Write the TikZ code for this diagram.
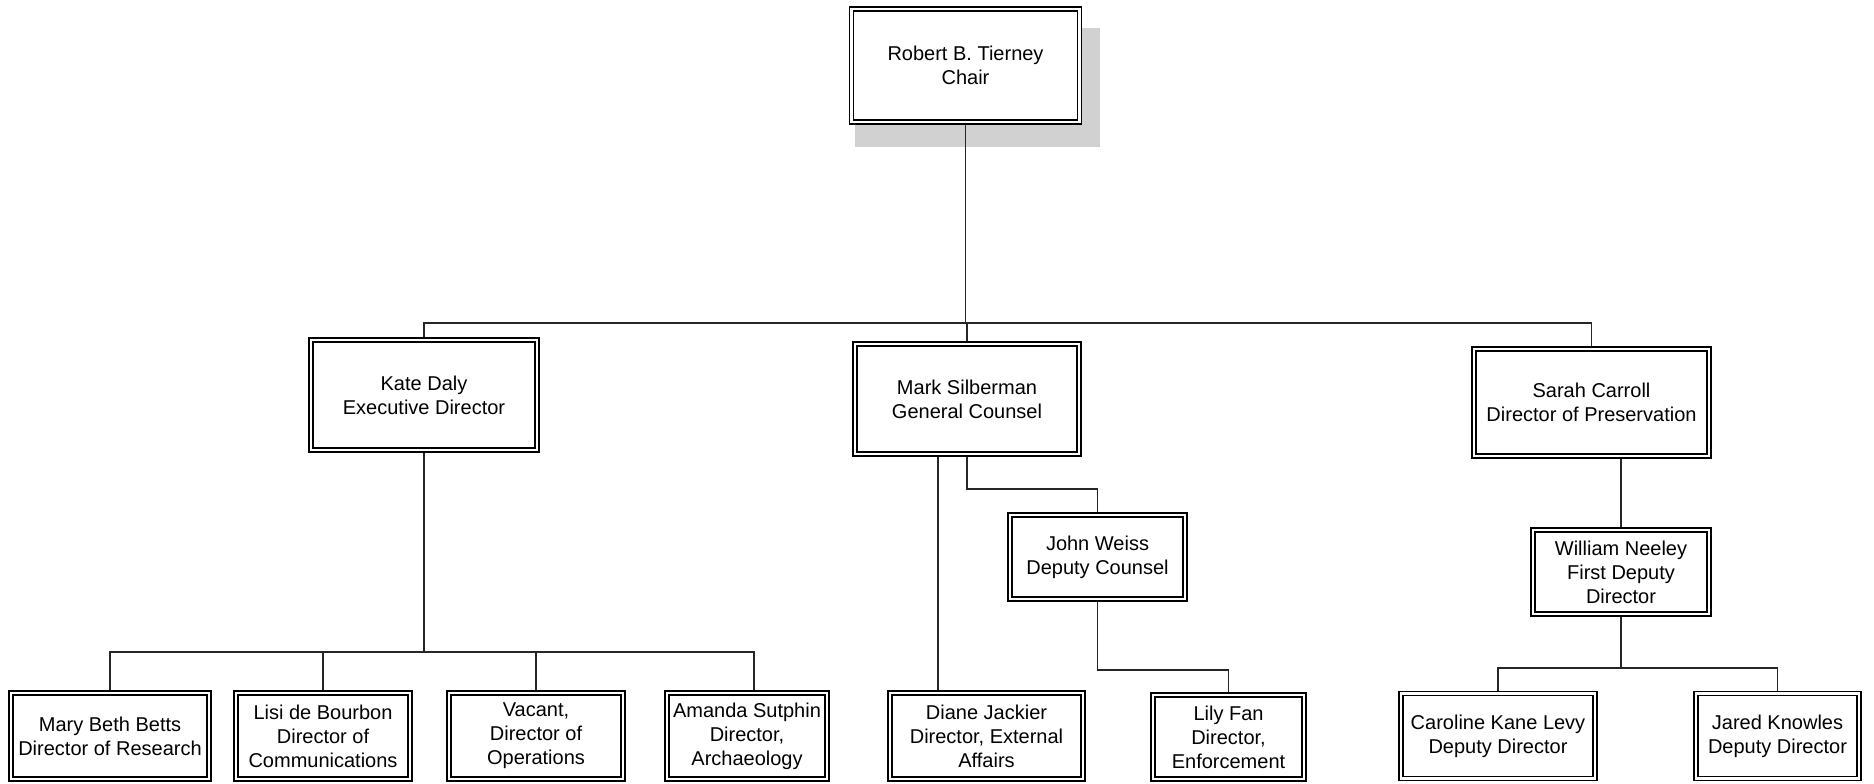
\documentclass[tikz,border=0pt]{standalone}
\usepackage{fontspec}
\setmainfont{Liberation Sans}
\usetikzlibrary{backgrounds}
\tikzset{
  orgbox/.style={draw=black, line width=1.8pt, fill=white, inner sep=0pt, align=center,
    font=\fontsize{20}{24}\selectfont,
    path picture={\draw[line width=1.1pt]
      ([shift={(4pt,-4pt)}]path picture bounding box.north west) rectangle
      ([shift={(-4pt,4pt)}]path picture bounding box.south east);}},
  link/.style={draw=black!85, line width=1.4pt},
  shadowbox/.style={fill=black!18, draw=none}
}
\newcommand{\orgnode}[6]{\node[orgbox, minimum width=#4pt, minimum height=#5pt] (#1) at (#2,#3) {#6};}
\begin{document}
\begin{tikzpicture}[x=1pt,y=-1pt]
\useasboundingbox (0,0) rectangle (1874,784);
% top
\orgnode{chair}{965.5}{65.5}{232}{117}{Robert B. Tierney\\Chair}
% second level
\orgnode{kate}{424}{395}{230}{114}{Kate Daly\\Executive Director}
\orgnode{mark}{967}{399}{228}{114}{Mark Silberman\\General Counsel}
\orgnode{sarah}{1591.5}{402.5}{239}{111}{Sarah Carroll\\Director of Preservation}
% third level
\orgnode{john}{1097.5}{557}{179}{88}{John Weiss\\Deputy Counsel}
\orgnode{william}{1621}{572}{180}{88}{William Neeley\\First Deputy\\Director}
% bottom level
\orgnode{mary}{110}{736}{202}{90}{Mary Beth Betts\\Director of Research}
\orgnode{lisi}{323}{736}{178}{90}{Lisi de Bourbon\\Director of\\Communications}
\orgnode{vacant}{536}{736}{178}{90}{Vacant,\\Director of\\Operations}
\orgnode{amanda}{747}{736}{164}{90}{Amanda Sutphin\\Director,\\Archaeology}
\orgnode{diane}{986.5}{736}{197}{90}{Diane Jackier\\Director, External\\Affairs}
\orgnode{lily}{1228.5}{737}{155}{88}{Lily Fan\\Director,\\Enforcement}
\orgnode{caroline}{1498}{736}{198}{89}{Caroline Kane Levy\\Deputy Director}
\orgnode{jared}{1777.5}{736}{167}{89}{Jared Knowles\\Deputy Director}
\begin{scope}[on background layer]
  \fill[shadowbox] ([shift={(6pt,-22pt)}]chair.north west) rectangle ([shift={(18pt,-22pt)}]chair.south east);
  % chair to second level
  \coordinate (b1) at (967,323);
  \draw[link] (chair.south) -- (chair.south |- b1);
  \draw[link] (kate.north) |- (b1) -| (sarah.north);
  \draw[link] (mark.north) -- (mark.north |- b1);
  % Kate's reports
  \coordinate (b2) at (424,652);
  \coordinate (am) at (754,652);
  \draw[link] (kate.south) -- (b2);
  \draw[link] (mary.north) |- (am) -- (am |- amanda.north);
  \draw[link] (lisi.north) -- (lisi.north |- b2);
  \draw[link] (vacant.north) -- (vacant.north |- b2);
  % Mark's reports
  \coordinate (dj) at (938,690);
  \draw[link] (dj |- mark.south) -- (dj |- diane.north);
  \draw[link] (mark.south) -- ++(0,32) -| (john.north);
  \draw[link] (john.south) -- ++(0,68) -| (lily.north);
  % Sarah's reports
  \draw[link] (william.north) -- (william.north |- sarah.south);
  \draw[link] (william.south) -- ++(0,51) coordinate (b3);
  \draw[link] (caroline.north) |- (b3) -| (jared.north);
\end{scope}
\end{tikzpicture}
\end{document}
